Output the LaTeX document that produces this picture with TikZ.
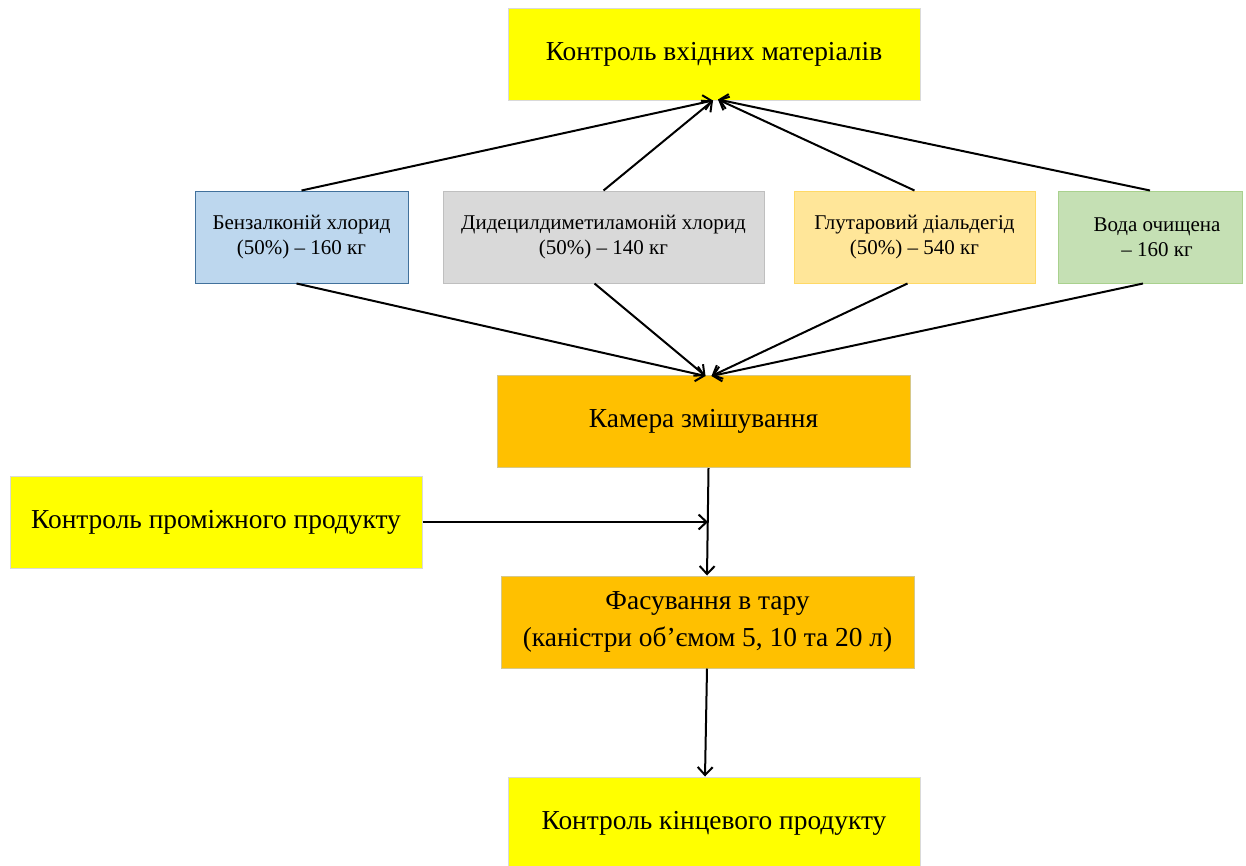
\documentclass[tikz,border=0pt]{standalone}
\usepackage{fontspec}
\setmainfont{Liberation Serif}
\usetikzlibrary{arrows.meta}
\definecolor{cyel}{HTML}{FFFF00}
\definecolor{cyelb}{HTML}{D9D9D9}
\definecolor{cblue}{HTML}{BDD7EE}
\definecolor{cblueb}{HTML}{41719C}
\definecolor{cgray}{HTML}{D9D9D9}
\definecolor{cgrayb}{HTML}{BFBFBF}
\definecolor{cgold}{HTML}{FFE699}
\definecolor{cgoldb}{HTML}{FFD966}
\definecolor{cgreen}{HTML}{C5E0B4}
\definecolor{cgreenb}{HTML}{A9D18E}
\definecolor{corange}{HTML}{FFC000}
\definecolor{corangeb}{HTML}{D6C88A}
\begin{document}
\begin{tikzpicture}[x=1pt,y=-1pt,
  box/.style={draw, line width=1pt, align=center, inner sep=0pt},
  bigbox/.style={box, minimum width=412pt, minimum height=92pt, font=\fontsize{27.4}{37}\selectfont},
  smallbox/.style={box, minimum height=92pt, font=\fontsize{21}{25.5}\selectfont},
  arr/.style={line width=2pt, -{Straight Barb[length=8pt,width=15pt,line width=2pt]}}
]
\useasboundingbox (0,0) rectangle (1246,865);
\fill[white] (0,0) rectangle (1246,865);

\node[bigbox, fill=cyel, draw=cyelb] (top) at (714,54) {Контроль вхідних матеріалів};

\node[smallbox, fill=cblue, draw=cblueb, minimum width=213pt] (b1) at (301.5,237) {Бензалконій хлорид\\(50\%) – 160 кг};
\node[smallbox, fill=cgray, draw=cgrayb, minimum width=321pt] (b2) at (603.5,237) {Дидецилдиметиламоній хлорид\\(50\%) – 140 кг};
\node[smallbox, fill=cgold, draw=cgoldb, minimum width=241pt] (b3) at (914.5,237) {Глутаровий  діальдегід\\(50\%) – 540 кг};
\node[smallbox, fill=cgreen, draw=cgreenb, minimum width=184pt] (b4) at (1150,237) {\hspace*{14pt}Вода очищена\\\hspace*{14pt}– 160 кг};

\node[bigbox, fill=corange, draw=corangeb, minimum width=413pt] (mix) at (703.5,421.5) {Камера змішування};
\node[bigbox, fill=cyel, draw=cyelb] (mid) at (216,522) {Контроль проміжного продукту};
\node[bigbox, fill=corange, draw=corangeb, minimum width=413pt] (pack) at (707.5,622) {Фасування в тару\\(каністри об’ємом 5, 10 та 20 л)};
\node[bigbox, fill=cyel, draw=cyelb] (fin) at (714,823) {Контроль кінцевого продукту};

% top convergence points
\coordinate (tl) at ([xshift=-1pt]top.south);
\coordinate (tr) at ([xshift=4pt,yshift=1pt]top.south);
\draw[arr] (b1.north) -- (tl);
\draw[arr] (b2.north) -- (tl);
\draw[arr] (b3.north) -- (tr);
\draw[arr] (b4.north) -- (tr);

% bottom convergence points
\coordinate (ml) at ([xshift=2pt,yshift=-1pt]mix.north);
\coordinate (mr) at ([xshift=8pt,yshift=-1pt]mix.north);
\draw[arr] ([xshift=-5pt]b1.south) -- (ml);
\draw[arr] ([xshift=-9pt]b2.south) -- (ml);
\draw[arr] ([xshift=-7pt]b3.south) -- (mr);
\draw[arr] ([xshift=-7pt]b4.south) -- (mr);

\coordinate (mj) at (708,522);
\draw[arr] ([xshift=5pt]mix.south) -- ([xshift=-0.5pt]pack.north);
\draw[arr] (mid.east) -- (mj);
\draw[arr] ([xshift=-0.5pt]pack.south) -- ([xshift=-9pt]fin.north);
\end{tikzpicture}
\end{document}
